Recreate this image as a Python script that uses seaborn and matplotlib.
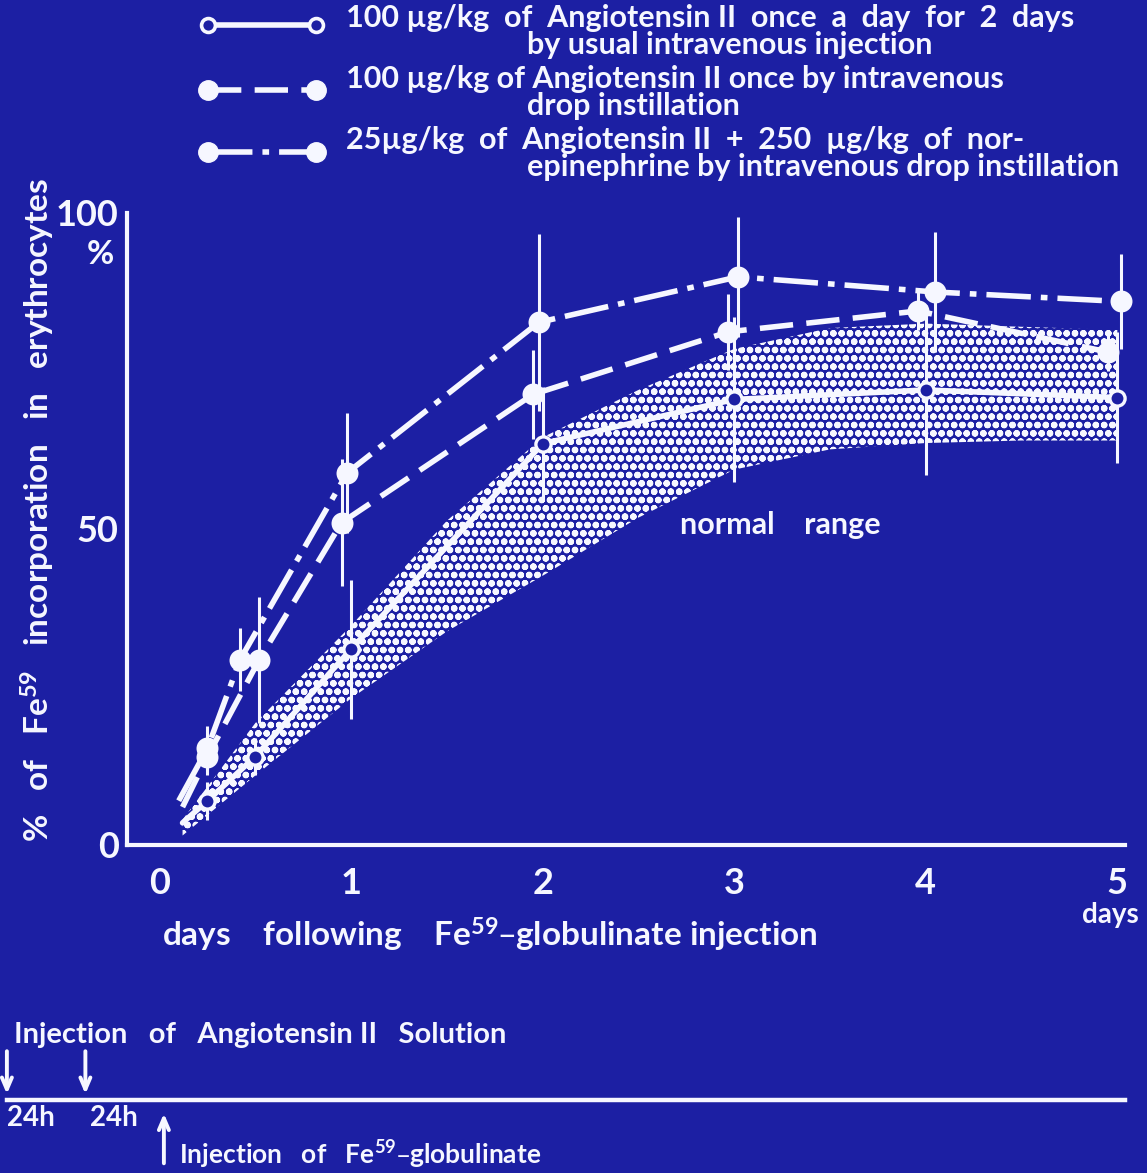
import numpy as np
import pandas as pd
import matplotlib
matplotlib.use("Agg")
import matplotlib.pyplot as plt
from matplotlib.lines import Line2D
import seaborn as sns

# ---------------------------------------------------------------- data
# 100 µg/kg Angiotensin II once a day for 2 days, usual i.v. injection
iv_days = [0.12, 0.25, 0.50, 1.00, 2.00, 3.00, 4.00, 5.00]
iv_pct = [3.5, 7.0, 14.0, 31.0, 63.5, 70.5, 72.0, 70.8]
iv_sd = [np.nan, 3.0, 3.0, 11.0, 9.0, 13.0, 13.5, 10.3]

# 100 µg/kg Angiotensin II once by i.v. drop instillation
drop_days = [0.12, 0.25, 0.52, 0.95, 1.95, 2.97, 3.96, 4.95]
drop_pct = [6.0, 14.0, 29.3, 51.0, 71.3, 81.2, 84.5, 78.0]
drop_sd = [np.nan, 3.0, 10.0, 10.0, 7.0, 6.0, 3.0, 3.0]

# 25 µg/kg Angiotensin II + 250 µg/kg norepinephrine by i.v. drop instillation
mix_days = [0.10, 0.25, 0.42, 0.98, 1.98, 3.02, 4.05, 5.02]
mix_pct = [7.0, 15.3, 29.3, 58.9, 82.7, 89.9, 87.5, 86.0]
mix_sd = [np.nan, 3.5, 5.0, 9.5, 14.0, 9.5, 9.5, 7.5]

# normal range band
normal_days = [0.12, 0.5, 1.0, 1.5, 2.0, 2.5, 3.0, 3.5, 4.0, 4.5, 5.0]
normal_low = [1.5, 11.0, 23.2, 33.8, 42.6, 51.8, 59.4, 62.6, 63.6, 64.0, 64.0]
normal_high = [4.0, 19.3, 34.7, 51.3, 64.5, 72.0, 78.5, 81.8, 82.5, 82.0, 81.5]

day_ticks = [0, 1, 2, 3, 4, 5]
pct_ticks = [0, 50, 100]
timeline_marks = [0.25, 0.5, 1, 2, 3, 4, 5]
angiotensin_days = [-0.80, -0.39]
fe_day = 0.02

legend_rows = [
    ["100 µg/kg  of  Angiotensin II  once  a  day  for  2  days",
     "by usual intravenous injection"],
    ["100 µg/kg of Angiotensin II once by intravenous",
     "drop instillation"],
    ["25µg/kg  of  Angiotensin II  +  250  µg/kg  of  nor-",
     "epinephrine by intravenous drop instillation"],
]

# ---------------------------------------------------------------- style
BG = "#1c1fa3"
WHITE = "#f6f7ff"
W, H = 1147, 1173

sns.set_theme(style="white")
plt.rcParams["font.family"] = ["Lato", "DejaVu Sans"]
plt.rcParams["font.weight"] = "bold"
plt.rcParams["mathtext.default"] = "regular"
plt.rcParams["hatch.color"] = WHITE
plt.rcParams["hatch.linewidth"] = 2.3


def fx(px):
    return px / W


def fy(py):
    return 1 - py / H


fig = plt.figure(figsize=(W / 100, H / 100), dpi=100, facecolor=BG)
ax = fig.add_axes([fx(127), fy(845), fx(1125) - fx(127), fy(213) - fy(845)])
ax.set_facecolor(BG)

# normal range (dotted band)
ax.fill_between(normal_days, normal_low, normal_high, facecolor="none",
                edgecolor=WHITE, hatch="oo", linewidth=0, zorder=1)

dash_drop = (0, (6.0, 2.4))
dash_mix = (0, (8.0, 1.8, 1.2, 1.8))
series = [
    (iv_days, iv_pct, iv_sd, "-", False),
    (drop_days, drop_pct, drop_sd, dash_drop, True),
    (mix_days, mix_pct, mix_sd, dash_mix, True),
]
for days, pct, sd, ls, filled in series:
    df = pd.DataFrame({"day": days, "pct": pct, "sd": sd})
    sns.lineplot(data=df, x="day", y="pct", ax=ax, color=WHITE, lw=4.0,
                 linestyle=ls, sort=False, errorbar=None, legend=False,
                 zorder=4)
    pts = df.dropna(subset=["sd"])
    ax.vlines(pts["day"], pts["pct"] - pts["sd"], pts["pct"] + pts["sd"],
              color=WHITE, lw=2.2, zorder=3, clip_on=False)
    if filled:
        sns.scatterplot(data=pts, x="day", y="pct", ax=ax, s=250,
                        color=WHITE, edgecolor=WHITE, linewidth=0,
                        zorder=5, legend=False, clip_on=False)
    else:
        sns.scatterplot(data=pts, x="day", y="pct", ax=ax, s=120,
                        color=BG, edgecolor=WHITE, linewidth=2.4,
                        zorder=5, legend=False, clip_on=False)

ax.set_xlim(-0.17, 5.04)
ax.set_ylim(0, 100)
for side in ("top", "right"):
    ax.spines[side].set_visible(False)
for side in ("left", "bottom"):
    ax.spines[side].set_color(WHITE)
    ax.spines[side].set_linewidth(3.0)
ax.set_xticks(day_ticks)
ax.set_xticklabels([str(d) for d in day_ticks])
ax.set_yticks(pct_ticks)
ax.set_yticklabels([str(p) for p in pct_ticks])
ax.tick_params(axis="x", direction="in", length=6, width=2.5, colors=WHITE,
               labelsize=26, pad=16)
ax.tick_params(axis="y", direction="in", length=5, width=2.5, colors=WHITE,
               labelsize=26, pad=6)

ax.set_xlabel("days    following    Fe$^{59}$–globulinate injection",
              fontsize=24, color=WHITE, fontweight="bold")
ax.xaxis.set_label_coords(0.364, -0.112)
ax.set_ylabel("%   of   Fe$^{59}$   incorporation   in   erythrocytes",
              fontsize=24, color=WHITE, fontweight="bold")
ax.yaxis.set_label_coords(-0.070, 0.53)

ax.text(0.985, -0.111, "days", transform=ax.transAxes, ha="center",
        va="center", fontsize=20, color=WHITE)
ax.text(-0.027, 0.934, "%", transform=ax.transAxes, ha="center",
        va="center", fontsize=24, color=WHITE)
ax.text(3.24, 50.6, "normal    range", ha="center", va="center",
        fontsize=22, color=WHITE, zorder=6)

# ---------------------------------------------------------------- legend
sample_y = [25, 90, 152]
text_base = [(27, 54), (88, 115), (149, 176)]
styles = [("-", False), (dash_drop, True), (dash_mix, True)]
for (ls, filled), yline, (b1, b2), (t1, t2) in zip(styles, sample_y,
                                                   text_base, legend_rows):
    fig.add_artist(Line2D([fx(208), fx(316)], [fy(yline), fy(yline)],
                          transform=fig.transFigure, color=WHITE, lw=4.0,
                          linestyle=ls))
    for xx in (fx(208), fx(316)):
        if filled:
            fig.add_artist(Line2D([xx], [fy(yline)], transform=fig.transFigure,
                                  marker="o", ms=14, mfc=WHITE, mec=WHITE))
        else:
            fig.add_artist(Line2D([xx], [fy(yline)], transform=fig.transFigure,
                                  marker="o", ms=10, mfc=BG, mec=WHITE,
                                  mew=2.6))
    fig.text(fx(346), fy(b1), t1, ha="left", va="baseline", fontsize=22,
             color=WHITE)
    fig.text(fx(527), fy(b2), t2, ha="left", va="baseline", fontsize=22,
             color=WHITE)

# ---------------------------------------------------------------- timeline
tl = fig.add_axes([0, 0, fx(1125), 1 - 1000 / H])
tl.set_facecolor("none")
tl.set_xlim(-0.836, 5.04)
tl.set_ylim(0, 1)
for side in ("top", "right", "left"):
    tl.spines[side].set_visible(False)
tl.spines["bottom"].set_position(("data", 0.422))
tl.spines["bottom"].set_bounds(-0.80, 5.04)
tl.spines["bottom"].set_color(WHITE)
tl.spines["bottom"].set_linewidth(3.2)
tl.set_xticks(timeline_marks)
tl.set_xticklabels([])
tl.set_yticks([])
tl.tick_params(axis="x", direction="in", length=5, width=1.5, colors=WHITE)

arrow = dict(arrowstyle="->,head_length=0.7,head_width=0.3", color=WHITE,
             lw=2.8)
for d in angiotensin_days:
    tl.annotate("", xy=(d, 0.44), xytext=(d, 0.72), arrowprops=arrow)
tl.annotate("", xy=(fe_day, 0.36), xytext=(fe_day, 0.04), arrowprops=arrow)

tl.text(-0.765, 0.75, "Injection   of   Angiotensin II   Solution",
        ha="left", va="baseline", fontsize=21, color=WHITE)
tl.text(-0.80, 0.27, "24h", ha="left", va="baseline", fontsize=20,
        color=WHITE)
tl.text(-0.365, 0.27, "24h", ha="left", va="baseline", fontsize=20,
        color=WHITE)
tl.text(0.10, 0.05, "Injection   of   Fe$^{59}$–globulinate", ha="left",
        va="baseline", fontsize=19, color=WHITE)

fig.savefig("out.png", dpi=100, facecolor=BG)
